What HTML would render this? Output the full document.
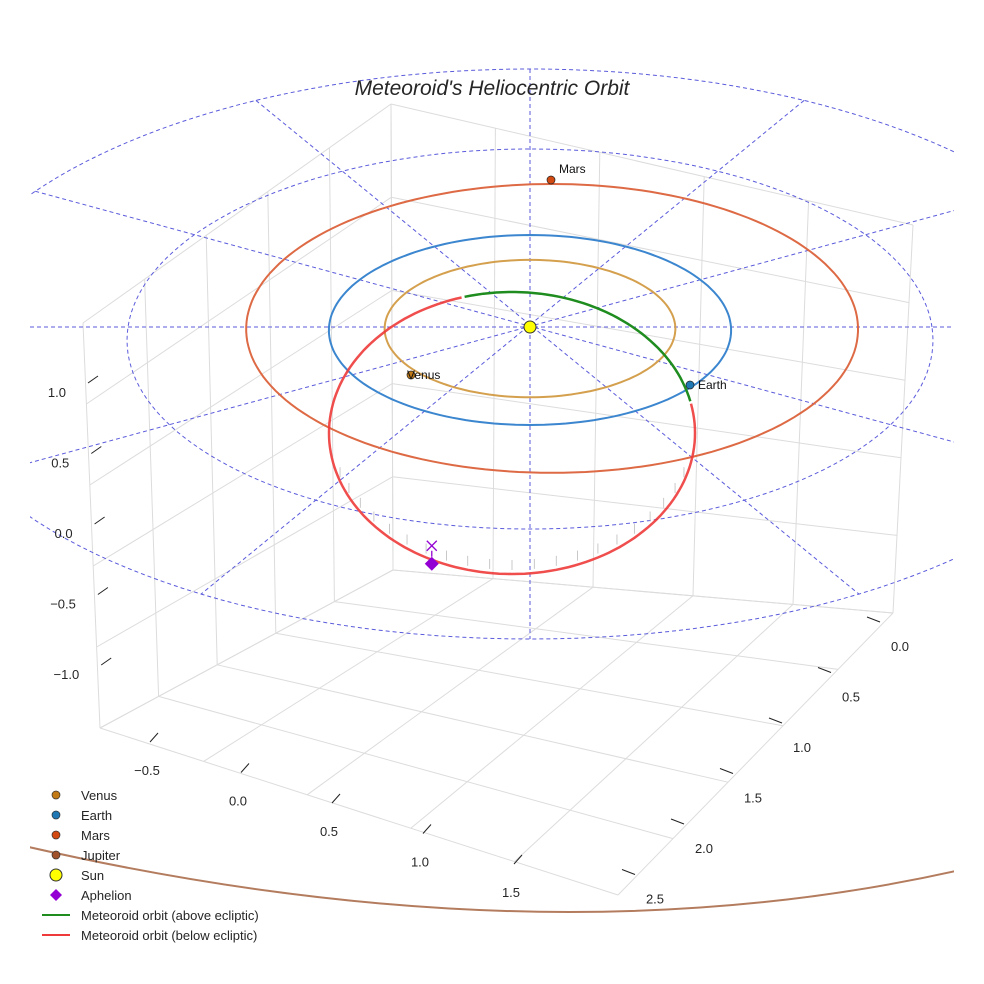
<!DOCTYPE html>
<html><head><meta charset="utf-8">
<style>
html,body{margin:0;padding:0;background:#fff;}
svg{display:block;font-family:"Liberation Sans",sans-serif;}
</style></head>
<body>
<svg id="chart" width="984" height="984" viewBox="0 0 984 984">
  <defs><clipPath id="clip"><rect x="30" y="0" width="924" height="984"/></clipPath></defs>
  <g id="box"></g>
  <g id="refs" clip-path="url(#clip)"></g>
  <g id="orbits" clip-path="url(#clip)"></g>
  <g id="meteor"></g>
  <g id="marks"></g>
  <g id="ticks"></g>
  <text x="492" y="95" text-anchor="middle" font-size="21" font-style="italic" fill="#262626">Meteoroid's Heliocentric Orbit</text>
  <g id="legend"></g>
</svg>
<script>
// ---- data ----
const planetNames = ["Venus","Earth","Mars","Jupiter"];
const planetRadii = [0.723, 1.0, 1.52, 5.2];
const planetCenterOffsetAU = [0, 0, 0.11, 0]; // orbit centre offset (eccentricity)
const planetColors = ["#d4a04e","#3b86cf","#dd6a45","#b47c5e"];
const planetMarkerColors = ["#c27a16","#1f77b4","#d24a12","#a0522d"];
const refRadii = [2, 3];
const refAngles = [0,30,60,90,120,150];
const meteorStartGreen = 13, meteorEndGreen = 106;
const aphelionAngle = 244;
const zTicks = ["1.0","0.5","0.0","\u22120.5","\u22121.0"];
const xTicks = ["\u22120.5","0.0","0.5","1.0","1.5"];
const yTicks = ["0.0","0.5","1.0","1.5","2.0","2.5"];

// ---- projection ----
const SX = 530, SY = 327, KX = 201, KY = 95, PY = 3, PX = 0.035;
function px(r,a){const s=r*Math.sin(a*Math.PI/180);return SX + KX*r*Math.cos(a*Math.PI/180)*(1-PX*s);}
function py(r,a){const s=r*Math.sin(a*Math.PI/180);return SY - s*(KY-PY*s);}
function ringPath(r,off){off=off||0;let d='';for(let a=0;a<=360;a+=2){d+=(d?'L':'M')+(px(r,a)+off*KX).toFixed(1)+' '+(py(r,a)-off*50).toFixed(1)+' ';}return d+'Z';}
const NS="http://www.w3.org/2000/svg";
function mk(tag,attrs,parent){const e=document.createElementNS(NS,tag);for(const k in attrs)e.setAttribute(k,attrs[k]);parent.appendChild(e);return e;}

// ---- axes box ----
const box=document.getElementById('box');
const B=[391,104],L=[83,323],R=[913,225],Bf=[393,570],Lf=[100,728],Rf=[893,613],F=[618,895];
function lerp(p,q,t){return [p[0]+(q[0]-p[0])*t,p[1]+(q[1]-p[1])*t];}
function quadGrid(a,b,c,d,n,m){
  for(let i=0;i<=n;i++){const t=i/n;const p=lerp(a,b,t),q=lerp(d,c,t);
    const l=mk('line',{x1:p[0],y1:p[1],x2:q[0],y2:q[1],stroke:'#dcdcdc','stroke-width':1},box);
    
    }
  for(let j=0;j<=m;j++){const t=j/m;const p=lerp(a,d,t),q=lerp(b,c,t);
    const l=mk('line',{x1:p[0],y1:p[1],x2:q[0],y2:q[1],stroke:'#dcdcdc','stroke-width':1},box);
    
    }
}
quadGrid(B,L,Lf,Bf,5,5);
quadGrid(B,R,Rf,Bf,5,5);
quadGrid(Bf,Lf,F,Rf,5,5);

// ---- reference dashed grid ----
const refs=document.getElementById('refs');
refRadii.forEach(r=>{
  const e=mk('path',{d:ringPath(r),fill:'none',stroke:'#5b5bdc','stroke-width':1,'stroke-dasharray':'4,3'},refs);
  
  
});
refAngles.forEach(a=>{
  const l=mk('line',{x1:px(3,a),y1:py(3,a),x2:px(3,a+180),y2:py(3,a+180),stroke:'#5b5bdc','stroke-width':1,'stroke-dasharray':'4,3'},refs);
  
  
});

// ---- planet orbits ----
const orb=document.getElementById('orbits');
planetRadii.forEach((r,i)=>{
  let e;
  if(i===3){
    e=mk('path',{d:'M 20 845 Q 540 965 960 870',fill:'none',stroke:planetColors[i],'stroke-width':2},orb);
  } else {
    e=mk('path',{d:ringPath(r,planetCenterOffsetAU[i]),fill:'none',stroke:planetColors[i],'stroke-width':2},orb);
  }
  
  
});

// ---- meteoroid orbit ----
const met=document.getElementById('meteor');
const MCX=512,MCY=433,MRX=183,MRY=141;
function mx(t){return MCX+MRX*Math.cos(t*Math.PI/180);}
function my(t){return MCY-MRY*Math.sin(t*Math.PI/180);}
function arc(t0,t1){let d='';for(let t=t0;t<=t1;t+=2){d+=(d?'L':'M')+mx(t).toFixed(1)+' '+my(t).toFixed(1)+' ';}return d;}
for(let t=200;t<=340;t+=7){
  const s=mk('line',{x1:mx(t),y1:my(t)-4,x2:mx(t),y2:my(t)-14,stroke:'#bbb','stroke-width':0.8},met);
  
  
}
const g=mk('path',{d:arc(meteorStartGreen,meteorEndGreen),fill:'none',stroke:'#1e8c1e','stroke-width':2.5},met);


const rd=mk('path',{d:arc(meteorEndGreen,360+meteorStartGreen),fill:'none',stroke:'#ee3a3a','stroke-width':2.5,'stroke-opacity':0.9},met);



// ---- markers ----
const mks=document.getElementById('marks');
const pos=[[411,375],[690,385],[551,180]];
pos.forEach((p,i)=>{
  const c=mk('circle',{cx:p[0],cy:p[1],r:4,fill:planetMarkerColors[i],stroke:'#222','stroke-width':0.7},mks);
  
  
  const t=mk('text',{x:p[0]+(i===0?-4:8),y:p[1]+(i===2?-7:4),'font-size':12,fill:'#111'},mks);
  t.textContent=planetNames[i];
  
  
});
const sun=mk('circle',{cx:SX,cy:SY,r:6,fill:'#ffff00',stroke:'#333','stroke-width':1},mks);


const ax=mx(aphelionAngle), ay=my(aphelionAngle)+4;
const ap=mk('path',{d:`M${ax} ${ay-7} L${ax+7} ${ay} L${ax} ${ay+7} L${ax-7} ${ay} Z`,fill:'#9400d3'},mks);


const xm=mk('path',{d:`M${ax-5} ${ay-23} L${ax+5} ${ay-13} M${ax+5} ${ay-23} L${ax-5} ${ay-13} M${ax} ${ay-13} L${ax} ${ay-7}`,stroke:'#9400d3','stroke-width':1.3,fill:'none'},mks);



// ---- ticks ----
const tk=document.getElementById('ticks');
function tick(x1,y1,x2,y2,lx,ly,txt,anchor){
  const l=mk('line',{x1,y1,x2,y2,stroke:'#222','stroke-width':1},tk);
  
  
  const t=mk('text',{x:lx,y:ly,'font-size':13,fill:'#262626','text-anchor':anchor},tk);
  t.textContent=txt;
  
  
}
zTicks.forEach((s,i)=>{const y=388+i*70.5;const x=88+i*3.3;tick(x,y-5,x+10,y-12,x-22,y+9,s,'end');});
xTicks.forEach((s,i)=>{const x=150+i*91,y=742+i*30.5;tick(x,y,x+8,y-9,x-3,y+33,s,'middle');});
yTicks.forEach((s,i)=>{const x=880-i*49,y=622+i*50.5;tick(x-13,y-5,x,y,x+20,y+29,s,'middle');});

// ---- legend ----
const lg=document.getElementById('legend');
const items=[["Venus","dot","#c27a16"],["Earth","dot","#1f77b4"],["Mars","dot","#d24a12"],["Jupiter","dot","#a0522d"],["Sun","sun","#ffff00"],["Aphelion","dia","#9400d3"],["Meteoroid orbit (above ecliptic)","line","#1e8c1e"],["Meteoroid orbit (below ecliptic)","line","#ee3a3a"]];
items.forEach((it,i)=>{
  const y=795+i*20;
  const grp=mk('g',{},lg);
  
  
  if(it[1]==='dot')mk('circle',{cx:56,cy:y,r:4,fill:it[2],stroke:'#333','stroke-width':0.7},grp);
  else if(it[1]==='sun')mk('circle',{cx:56,cy:y,r:6,fill:it[2],stroke:'#333','stroke-width':1},grp);
  else if(it[1]==='dia')mk('path',{d:`M56 ${y-6} L62 ${y} L56 ${y+6} L50 ${y} Z`,fill:it[2]},grp);
  else mk('line',{x1:42,y1:y,x2:70,y2:y,stroke:it[2],'stroke-width':2},grp);
  const t=mk('text',{x:81,y:y+5,'font-size':13,fill:'#262626'},grp);
  t.textContent=it[0];
});
</script>
</body></html>
